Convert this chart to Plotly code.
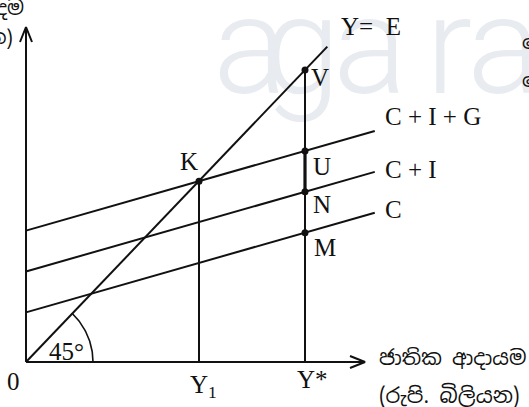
import plotly.graph_objects as go
import numpy as np

# ---------------- data (conceptual units, Rs. billion) ----------------
income_ticks = [0, 62, 100]                 # 0, Y1, Y*
income_labels = ["0", "Y<sub>1</sub>", "Y*"]
line_names = ["C", "C + I", "C + I + G"]
line_intercepts = [17, 31, 45]
line_slope = 0.273
line_x_end = 125
ye_x_end = 108
point_names = ["M", "N", "U"]
watermark_letters = ["a", "g", "a", "r", "a"]

# ---------------- layout geometry ----------------
W, H = 529, 407
OX, OY = 26, 362          # pixel position of the origin
KX, KY = 2.79, 2.92       # pixels per unit
xr = [-OX / KX, (W - OX) / KX]
yr = [-(H - OY) / KY, OY / KY]

def dx(p):
    return p / KX

def dy(p):
    return p / KY

SERIF = "Liberation Serif, Times New Roman, serif"
SINH = "Noto Sans Sinhala, Iskoola Pota, sans-serif"
BLACK = "#111"
LW = 2

fig = go.Figure()

# watermark (drawn first, behind everything)
wm_px = [250, 302, 370, 449, 504]
fig.add_trace(go.Scatter(
    x=[dx(p - OX) for p in wm_px], y=[dy(OY - 58)] * len(wm_px), mode="text",
    text=watermark_letters, textposition="middle center",
    textfont=dict(family="Roboto, Lato, sans-serif", size=138, color="#e8ebef", weight=300),
    hoverinfo="skip", showlegend=False))

def seg(x, y, w=LW, dash="solid"):
    fig.add_trace(go.Scatter(x=x, y=y, mode="lines",
                             line=dict(color=BLACK, width=w, dash=dash),
                             hoverinfo="skip", showlegend=False))

# axes
x_tip = dx(365 - OX)
y_tip = dy(OY - 27)
seg([0, x_tip], [0, 0])
seg([0, 0], [0, y_tip])
# arrow heads (open chevrons)
seg([x_tip - dx(15), x_tip, x_tip - dx(15)], [dy(6), 0, -dy(6)])
seg([-dx(6), 0, dx(6)], [y_tip - dy(15), y_tip, y_tip - dy(15)])

# Y = E line
seg([0, ye_x_end], [0, ye_x_end])

# expenditure lines
xs = np.array([0, line_x_end])
for a in line_intercepts:
    seg(list(xs), list(a + line_slope * xs))

Y1 = income_ticks[1]
YS = income_ticks[2]
K = (Y1, line_intercepts[2] + line_slope * Y1)
V = (YS, YS)
pts_y = [a + line_slope * YS for a in line_intercepts]

# verticals
seg([Y1, Y1], [0, K[1]])
seg([YS, YS], [0, V[1]])
seg([YS, YS], [pts_y[1], pts_y[2]], w=3.2)

# 45 degree arc
ang_end = np.arctan2(YS * KY, YS * KX)
t = np.linspace(0, ang_end, 40)
R = 67
seg(list(dx(R * np.cos(t))), list(dy(R * np.sin(t))), w=1.6)

# points
fig.add_trace(go.Scatter(
    x=[K[0], V[0]] + [YS] * 3, y=[K[1], V[1]] + pts_y, mode="markers",
    marker=dict(color=BLACK, size=7), hoverinfo="skip", showlegend=False))

ann = []

def text(x, y, s, size=25, family=SERIF, xanchor="center", yanchor="middle", color=BLACK):
    ann.append(dict(x=x, y=y, xref="x", yref="y", text=s, showarrow=False,
                    xanchor=xanchor, yanchor=yanchor,
                    font=dict(family=family, size=size, color=color)))

# point labels
text(K[0] - dx(10), K[1] + dy(20), "K")
text(V[0] + dx(15), V[1] - dy(7), "V")
text(YS + dx(17), pts_y[2] - dy(16), point_names[2])
text(YS + dx(17), pts_y[1] - dy(13), point_names[1])
text(YS + dx(20), pts_y[0] - dy(15), point_names[0])

# line labels
text(line_x_end + dx(8), line_intercepts[2] + line_slope * line_x_end + dy(14), line_names[2], xanchor="left")
text(line_x_end + dx(8), line_intercepts[1] + line_slope * line_x_end + dy(2), line_names[1], xanchor="left")
text(line_x_end + dx(8), line_intercepts[0] + line_slope * line_x_end + dy(3), line_names[0], xanchor="left")
text(ye_x_end + dx(12), ye_x_end + dy(20), "Y=&nbsp; E", xanchor="left")

# tick labels
text(0 - dx(13), -dy(19), income_labels[0])
text(Y1 + dx(5), -dy(24), income_labels[1])
text(YS + dx(7), -dy(17), income_labels[2])
text(dx(40), dy(11), "45°")

# axis titles (Sinhala)
text(x_tip + dx(12), -dy(-5), "ජාතික ආදායම", size=20.5, family=SINH, xanchor="left")
text(x_tip + dx(12), -dy(33), "(රුපි. බිලියන)", size=21, family=SINH, xanchor="left")
text(-dx(0), y_tip + dy(19), "සමස්ත වියදම", size=20, family=SINH, xanchor="right")
text(-dx(11), y_tip - dy(10), "(රුපි. බිලියන)", size=20, family=SINH, xanchor="right")
# fragments cut at the right edge
text(dx(520 - OX), dy(OY - 42), "මෙම ආදායම", size=20, family=SINH, xanchor="left")
text(dx(520 - OX), dy(OY - 80), "මෙය වියදම", size=20, family=SINH, xanchor="left")

fig.update_layout(
    width=W, height=H, margin=dict(l=0, r=0, t=0, b=0),
    paper_bgcolor="white", plot_bgcolor="white",
    xaxis=dict(range=xr, visible=False, fixedrange=True),
    yaxis=dict(range=yr, visible=False, fixedrange=True),
    annotations=ann, showlegend=False,
)
fig.write_html("out.html", config={"displayModeBar": False},
               post_script="document.body.style.margin='0';document.body.style.overflow='hidden';")
